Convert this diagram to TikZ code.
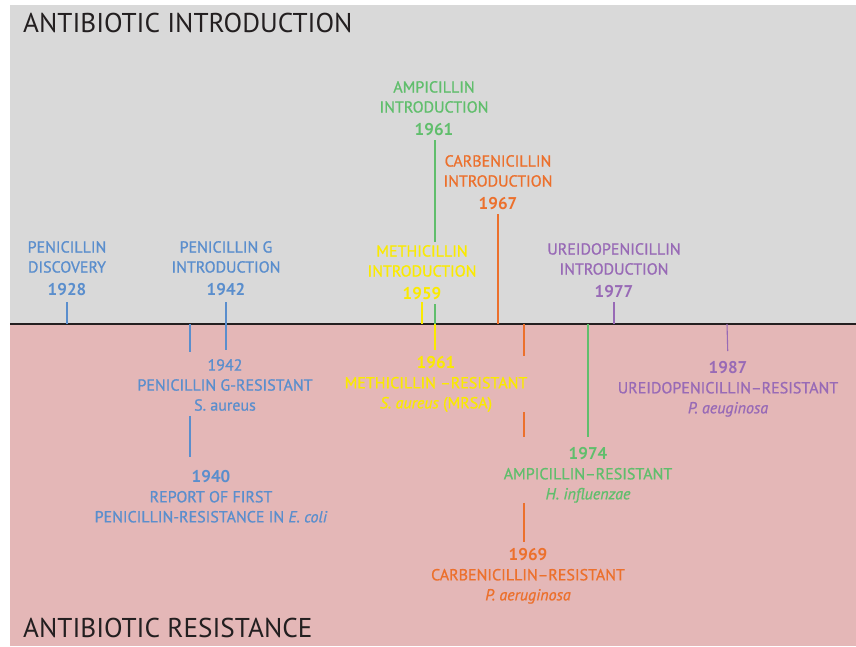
\documentclass[tikz,border=0pt]{standalone}
\usepackage{fontspec}
\setmainfont{PT Sans}
\newfontfamily\eventfont{PT Sans}[Ligatures=TeX, FakeBold=0.9]
\usetikzlibrary{positioning}

\definecolor{penblue}{RGB}{90,142,205}
\definecolor{ampgreen}{RGB}{96,190,108}
\definecolor{methyellow}{RGB}{250,234,0}
\definecolor{carborange}{RGB}{236,112,44}
\definecolor{ureipurple}{RGB}{152,106,182}
\definecolor{introgray}{RGB}{217,217,217}
\definecolor{resistpink}{RGB}{228,183,183}
\definecolor{titlegray}{RGB}{35,31,32}

\newcommand{\yr}[1]{{\fontsize{17}{20}\selectfont\normalfont\bfseries #1}}

\begin{document}
\begin{tikzpicture}[x=1pt, y=-1pt,
    every node/.style={inner sep=0pt, align=center},
    event/.style={font=\eventfont\fontsize{16}{20}\selectfont},
    heading/.style={anchor=base west, text=titlegray, font=\fontsize{27.2}{30}\selectfont},
    tick/.style={line width=1.1pt},
    ]
    \useasboundingbox (0,0) rectangle (856,646);
    \fill[introgray] (10,5) rectangle (856,324);
    \fill[resistpink] (10,324) rectangle (856,646);

    \node[heading] (introtitle) at (23,32) {ANTIBIOTIC INTRODUCTION};
    \node[heading] (resisttitle) at (23,637) {ANTIBIOTIC RESISTANCE};

    % timeline
    \coordinate (axL) at (10,324);
    \coordinate (axR) at (856,324);
    \draw[line width=1.6pt, titlegray] (axL) -- (axR);
    \coordinate (y28) at (67,324);
    \coordinate (y40) at (190,324);
    \coordinate (y42) at (226,324);
    \coordinate (y59) at (422,324);
    \coordinate (y61) at (435,324);
    \coordinate (y67) at (498,324);
    \coordinate (y69) at (524,324);
    \coordinate (y74) at (588,324);
    \coordinate (y77) at (614,324);
    \coordinate (y87) at (727,324);

    % introduction
    \node[event, text=penblue, anchor=south] (pendisc) at (67,296) {PENICILLIN\\DISCOVERY\\[3pt]\yr{1928}};
    \node[event, text=penblue, anchor=south] (penG) at (226,296) {PENICILLIN G\\INTRODUCTION\\[3pt]\yr{1942}};
    \node[event, text=methyellow, anchor=south] (methI) at (422,300) {METHICILLIN\\INTRODUCTION\\[3pt]\yr{1959}};
    \node[event, text=ampgreen, anchor=south] (ampI) at (434,136) {AMPICILLIN\\INTRODUCTION\\[3pt]\yr{1961}};
    \node[event, text=carborange, anchor=south] (carbI) at (498,210) {CARBENICILLIN\\INTRODUCTION\\[3pt]\yr{1967}};
    \node[event, text=ureipurple, anchor=south] (ureI) at (614,298) {UREIDOPENICILLIN\\INTRODUCTION\\[3pt]\yr{1977}};

    % resistance
    \node[event, text=penblue, anchor=north] (penGR) at (225,359) {1942\\PENICILLIN G-RESISTANT\\S. aureus};
    \node[event, text=penblue, anchor=north] (ecoliR) at (211,470) {\yr{1940}\\REPORT OF FIRST\\PENICILLIN-RESISTANCE IN \textit{E. coli}};
    \node[event, text=methyellow, anchor=north] (mrsaR) at (436,356) {\yr{1961}\\METHICILLIN --RESISTANT\\\textit{S. aureus} (MRSA)};
    \node[event, text=ampgreen, anchor=north] (ampR) at (588,447) {\yr{1974}\\AMPICILLIN--RESISTANT\\\textit{H. influenzae}};
    \node[event, text=carborange, anchor=north] (carbR) at (528,548) {\yr{1969}\\CARBENICILLIN--RESISTANT\\\textit{P. aeruginosa}};
    \node[event, text=ureipurple, anchor=north] (ureR) at (728,361) {\yr{1987}\\UREIDOPENICILLIN--RESISTANT\\\textit{P. aeuginosa}};

    % introduction ticks
    \draw[tick, penblue, shorten >=6pt] (y28) -- (pendisc.south);
    \draw[tick, penblue, shorten >=6pt] (y42) -- (penG.south);
    \draw[tick, methyellow, shorten >=2pt] (y59) -- (methI.south);
    \draw[tick, ampgreen, shorten >=4pt] (y61) -- (y61 |- methI.south);
    \draw[tick, ampgreen, shorten <=3pt, shorten >=4pt] (y61 |- methI.north) -- (y61 |- ampI.south);
    \draw[tick, carborange, shorten >=4pt] (y67) -- (carbI.south);
    \draw[tick, ureipurple, shorten >=4pt] (y77) -- (ureI.south);

    % resistance ticks
    \draw[tick, penblue, shorten >=9pt] (y42) -- (y42 |- penGR.north);
    \draw[tick, penblue, shorten >=7pt] (y40) -- (y40 |- penGR.north);
    \draw[tick, penblue, shorten <=5pt, shorten >=13pt] (y40 |- penGR.south) -- (y40 |- ecoliR.north);
    \draw[tick, methyellow, shorten >=6pt] (y61) -- (y61 |- mrsaR.north);
    \draw[tick, carborange] (y69) -- (y69 |- mrsaR.north);
    \draw[tick, carborange, shorten >=10pt] (y69 |- mrsaR.south) -- (y69 |- ampR.north);
    \draw[tick, carborange, shorten >=6pt] (y69 |- ampR.south) -- (y69 |- carbR.north);
    \draw[tick, ampgreen, shorten >=10pt] (y74) -- (ampR.north);
    \draw[tick, ureipurple, shorten >=10pt] (y87) -- (ureR.north);
\end{tikzpicture}
\end{document}
